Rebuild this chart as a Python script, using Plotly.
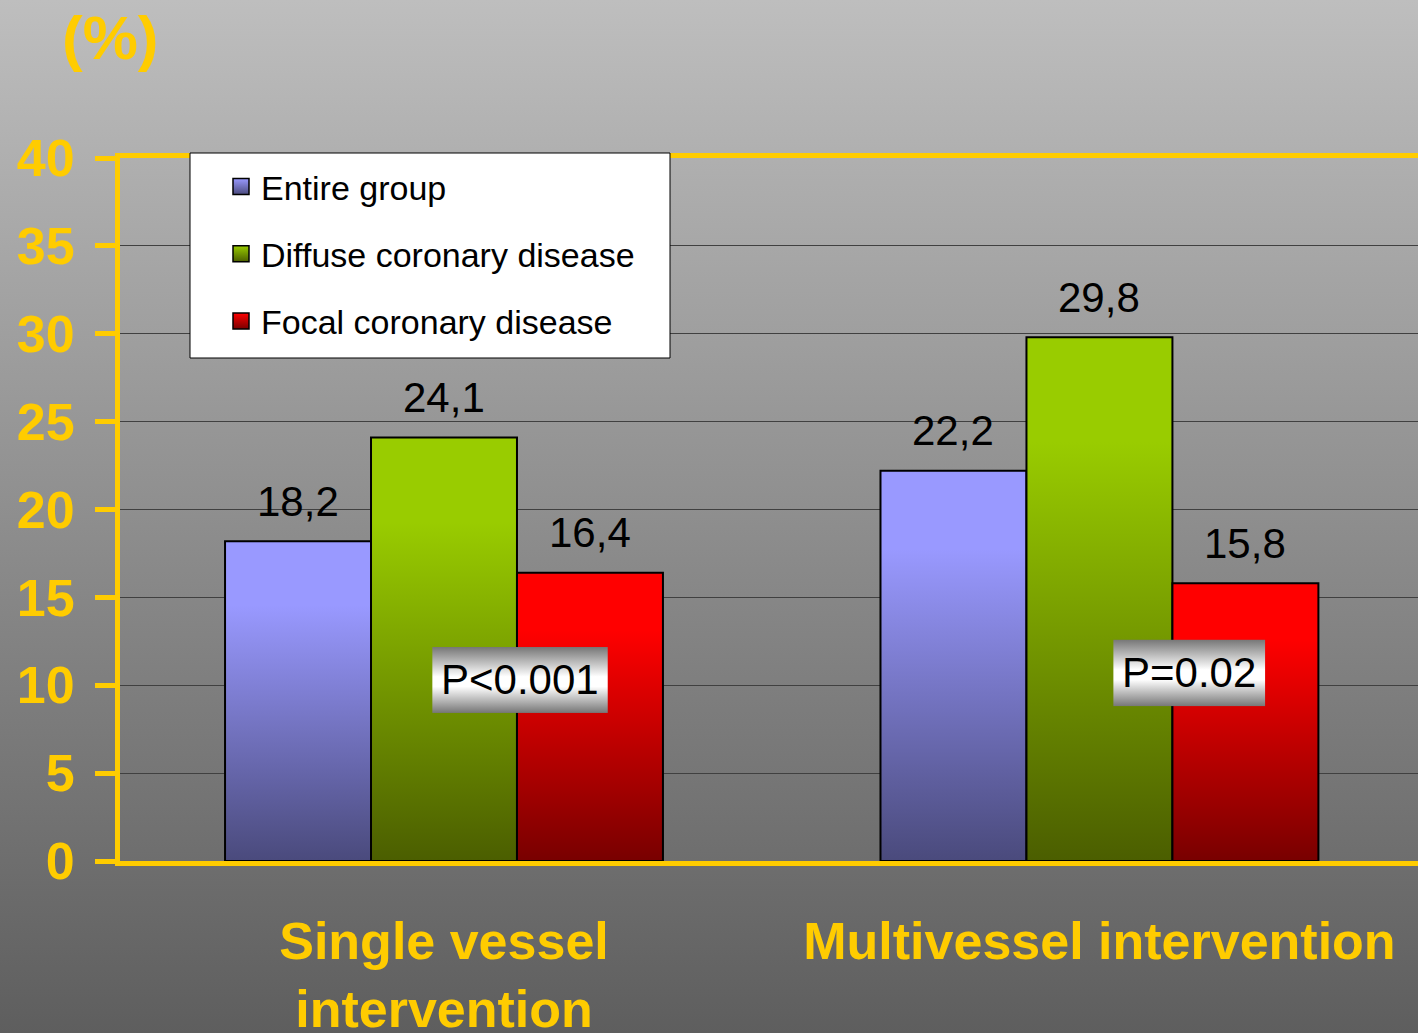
import base64
import plotly.graph_objects as go

# ---------------- data ----------------
categories = ["Single vessel<br>intervention", "Multivessel intervention"]
series_names = ["Entire group", "Diffuse coronary disease", "Focal coronary disease"]
entire_group = [18.2, 22.2]
diffuse_disease = [24.1, 29.8]
focal_disease = [16.4, 15.8]
p_labels = ["P<0.001", "P=0.02"]
y_ticks = [0, 5, 10, 15, 20, 25, 30, 35, 40]

# ---------------- styles ----------------
YELLOW = "#FFCC00"
FONT = "Liberation Sans, Arial, sans-serif"
light = ["#9999ff", "#99cc00", "#ff0000"]
dark = ["#4a4a7c", "#4b5e00", "#780000"]
BAR_W = 0.2227
offsets = [-1, 0, 1]

W, H = 1418, 1033


def svg_uri(stops):
    s = "".join(f'<stop offset="{o}" stop-color="{c}"/>' for o, c in stops)
    svg = ('<svg xmlns="http://www.w3.org/2000/svg" width="100" height="100" viewBox="0 0 100 100" '
           'preserveAspectRatio="none"><defs><linearGradient id="g" x1="0" y1="0" x2="0" y2="1">'
           + s + '</linearGradient></defs><rect width="100" height="100" fill="url(#g)"/></svg>')
    return "data:image/svg+xml;base64," + base64.b64encode(svg.encode()).decode()


fig = go.Figure()
series_vals = [entire_group, diffuse_disease, focal_disease]
annotations = []
for s, (name, vals) in enumerate(zip(series_names, series_vals)):
    for c, v in enumerate(vals):
        xc = c + offsets[s] * BAR_W
        x0, x1 = xc - BAR_W / 2, xc + BAR_W / 2
        fig.add_trace(go.Scatter(
            x=[x0, x1, x1, x0, x0], y=[0, 0, v, v, 0],
            mode="lines", fill="toself",
            line=dict(color="black", width=2),
            fillgradient=dict(type="vertical",
                              colorscale=[[0, dark[s]], [0.8, light[s]], [1, light[s]]]),
            showlegend=False, hoverinfo="skip"))
        annotations.append(dict(
            x=xc, y=v, xref="x", yref="y", text=f"{v:.1f}".replace(".", ","),
            showarrow=False, yshift=40, yanchor="middle",
            font=dict(family=FONT, size=42, color="black")))
    fig.add_trace(go.Scatter(
        x=[None], y=[None], mode="markers", name=name, legendgroup=name,
        marker=dict(symbol="square", size=16, color=light[s],
                    gradient=dict(type="vertical", color=dark[s]),
                    line=dict(color="black", width=1.5))))

# p-value boxes (between diffuse and focal bars)
p_pos = [(0.116, 10.3), (1.137, 10.7)]
p_box = [(0.268, 3.75), (0.232, 3.8)]
images = [dict(source=svg_uri([(0, "#bebebe"), (1, "#5e5e5e")]), xref="paper", yref="paper",
               x=0, y=1, sizex=1, sizey=1, sizing="stretch", layer="below",
               xanchor="left", yanchor="top")]
pbox_src = svg_uri([(0, "#767676"), (0.45, "#ffffff"), (0.6, "#ffffff"), (1, "#767676")])
for (px, py), (bw, bh), txt in zip(p_pos, p_box, p_labels):
    images.append(dict(source=pbox_src, xref="x", yref="y", x=px, y=py, sizex=bw, sizey=bh,
                       sizing="stretch", layer="above", xanchor="center", yanchor="middle"))
    annotations.append(dict(x=px, y=py, xref="x", yref="y", text=txt, showarrow=False,
                            font=dict(family=FONT, size=42, color="black")))

annotations.append(dict(x=110 / W, y=1 - 37 / H, xref="paper", yref="paper", text="(%)",
                        showarrow=False, xanchor="center", yanchor="middle",
                        font=dict(family=FONT, size=62, color=YELLOW, weight="bold")))

fig.update_layout(
    width=W, height=H, autosize=False,
    margin=dict(l=0, r=0, t=0, b=0, pad=0, autoexpand=False),
    paper_bgcolor="#8e8e8e",
    plot_bgcolor="#c0c0c0",
    images=images,
    annotations=annotations,
    showlegend=True,
    legend=dict(x=221 / W, y=1 - 158 / H, xanchor="left", yanchor="top",
                bgcolor="rgba(0,0,0,0)", borderwidth=0, tracegroupgap=20,
                font=dict(family=FONT, size=34, color="black")),
    shapes=[dict(type="rect", xref="paper", yref="paper",
                 x0=190 / W, x1=670 / W, y0=1 - 358 / H, y1=1 - 153 / H,
                 fillcolor="white", line=dict(color="black", width=1), layer="above")],
    xaxis=dict(domain=[120 / W, 1], range=[-0.4943, 1.486], automargin=False,
               tickvals=[0, 1], ticktext=categories, ticks="",
               tickfont=dict(family=FONT, size=52, color=YELLOW, weight="bold"),
               ticklabelstandoff=31,
               showline=True, linecolor=YELLOW, linewidth=5, mirror=True,
               showgrid=False, zeroline=False, fixedrange=True),
    yaxis=dict(domain=[1 - 861 / H, 1 - 158 / H], range=[0, 40], automargin=False,
               tickvals=y_ticks, ticktext=[str(t) for t in y_ticks],
               ticks="outside", ticklen=20, tickwidth=5, tickcolor=YELLOW,
               tickfont=dict(family=FONT, size=52, color=YELLOW, weight="bold"),
               ticklabelstandoff=10,
               showline=True, linecolor=YELLOW, linewidth=5,
               showgrid=True, gridcolor="#404040", gridwidth=1, zeroline=False,
               fixedrange=True),
)

fig.write_html("out.html", config={"displayModeBar": False, "staticPlot": True},
               post_script="document.body.style.margin='0';document.body.style.overflow='hidden';")
